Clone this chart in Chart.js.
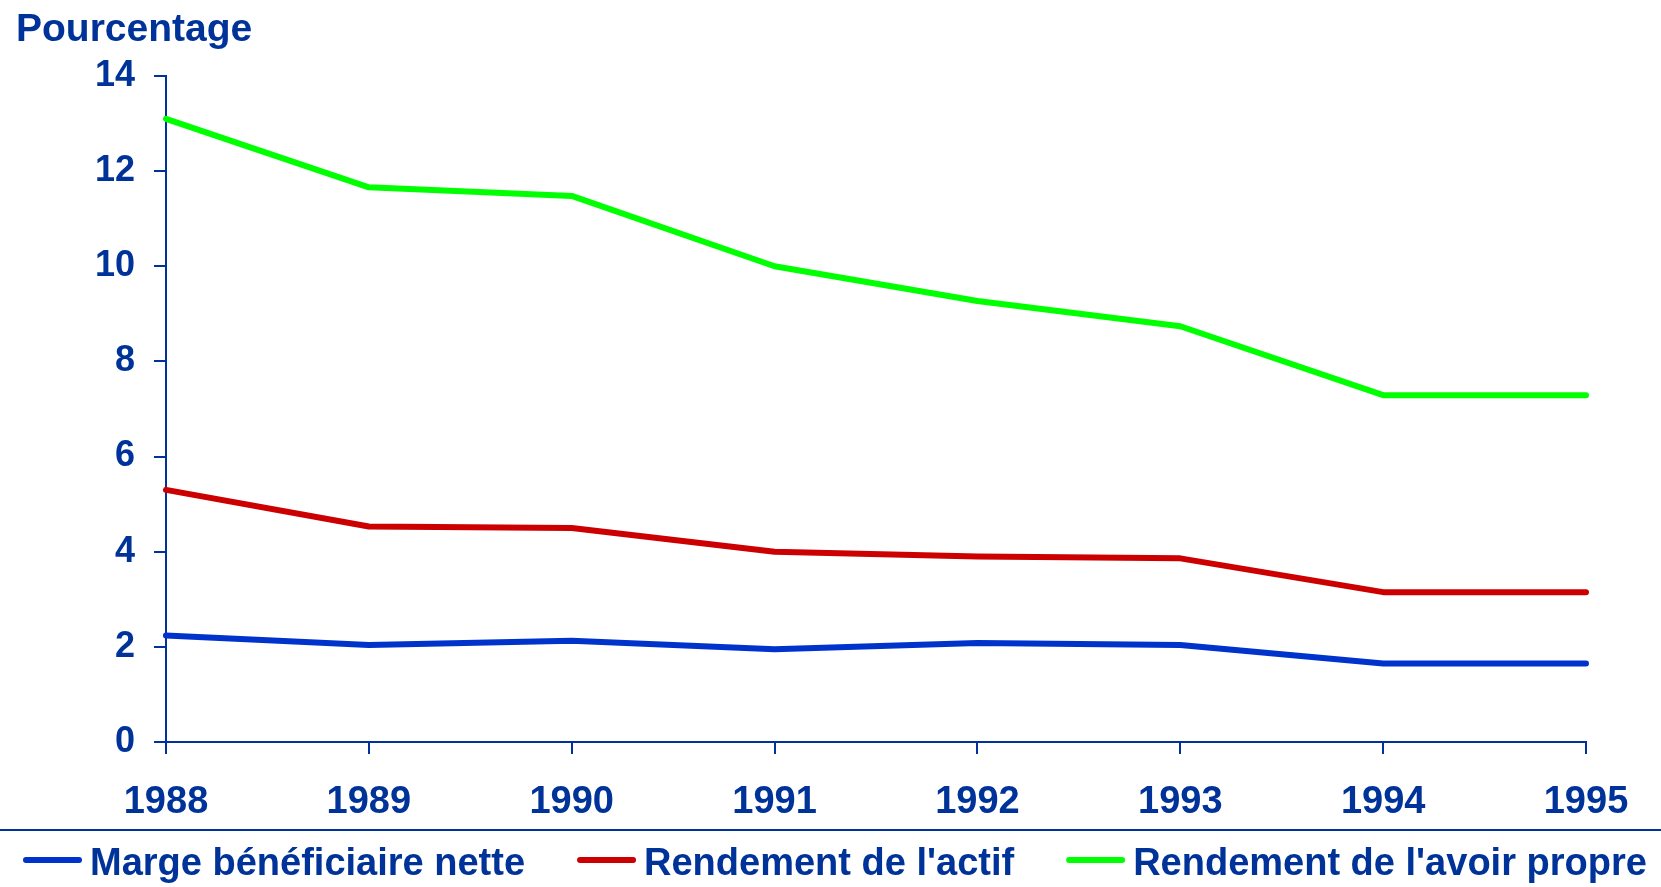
<!DOCTYPE html>
<html>
<head>
<meta charset="utf-8">
<script src="https://cdn.jsdelivr.net/npm/chart.js@4.4.0/dist/chart.umd.min.js"></script>
<style>
  html, body { margin: 0; padding: 0; background: #fff; }
  #wrap { width: 1661px; height: 887px; }
</style>
</head>
<body>
<div id="wrap"><canvas id="chart" width="1661" height="887"></canvas></div>
<script>
// Données (en %)
const years = ["1988", "1989", "1990", "1991", "1992", "1993", "1994", "1995"];
const margeNette = [2.24, 2.04, 2.13, 1.95, 2.08, 2.04, 1.65, 1.65];
const rendementActif = [5.3, 4.53, 4.5, 4.0, 3.9, 3.86, 3.15, 3.15];
const rendementAvoir = [13.1, 11.66, 11.48, 10.0, 9.27, 8.74, 7.29, 7.29];
const seriesLabels = [
  "Marge bénéficiaire nette",
  "Rendement de l'actif",
  "Rendement de l'avoir propre",
];

const TEXT = "#003399";
const FONT = "'Liberation Sans', Arial, sans-serif";

// Légende dessinée sous le trait de séparation
const bottomLegend = {
  id: "bottomLegend",
  afterDraw(chart) {
    const ctx = chart.ctx;
    ctx.save();
    ctx.strokeStyle = TEXT;
    ctx.lineWidth = 2;
    ctx.beginPath();
    ctx.moveTo(0, 830);
    ctx.lineTo(chart.width, 830);
    ctx.stroke();

    ctx.font = "bold 38px " + FONT;
    let x = 23;
    chart.data.datasets.forEach((ds) => {
      ctx.strokeStyle = ds.borderColor;
      ctx.lineWidth = 6;
      ctx.lineCap = "round";
      ctx.beginPath();
      ctx.moveTo(x + 3, 860);
      ctx.lineTo(x + 56, 860);
      ctx.stroke();
      ctx.fillStyle = TEXT;
      ctx.textAlign = "left";
      ctx.textBaseline = "alphabetic";
      ctx.fillText(ds.label, x + 67, 875);
      x += 67 + ctx.measureText(ds.label).width + 52;
    });
    ctx.restore();
  },
};

const lineStyle = {
  borderWidth: 6,
  pointRadius: 0,
  tension: 0,
  borderCapStyle: "round",
  borderJoinStyle: "round",
  fill: false,
};

new Chart(document.getElementById("chart").getContext("2d"), {
  type: "line",
  data: {
    labels: years,
    datasets: [
      { label: seriesLabels[0], data: margeNette, borderColor: "#0033cc", ...lineStyle },
      { label: seriesLabels[1], data: rendementActif, borderColor: "#cc0000", ...lineStyle },
      { label: seriesLabels[2], data: rendementAvoir, borderColor: "#00ff00", ...lineStyle },
    ],
  },
  options: {
    responsive: false,
    animation: false,
    layout: { padding: { left: 16, right: 75, top: 0, bottom: 0 } },
    plugins: {
      legend: { display: false },
      tooltip: { enabled: false },
      title: {
        display: true,
        text: "Pourcentage",
        align: "start",
        color: TEXT,
        font: { family: FONT, size: 39, weight: "bold" },
        padding: { top: 7, bottom: 22.2 },
      },
    },
    scales: {
      x: {
        offset: false,
        border: { color: TEXT, width: 2 },
        grid: { drawOnChartArea: false, drawTicks: true, tickLength: 12, color: TEXT, lineWidth: 2 },
        ticks: {
          color: TEXT,
          font: { family: FONT, size: 38, weight: "bold" },
          maxRotation: 0,
          autoSkip: false,
          padding: 26,
        },
        afterFit(scale) {
          scale.height = 145;
        },
      },
      y: {
        min: 0,
        max: 14,
        border: { color: TEXT, width: 2 },
        grid: { drawOnChartArea: false, drawTicks: true, tickLength: 12, color: TEXT, lineWidth: 2 },
        ticks: {
          stepSize: 2,
          color: TEXT,
          font: { family: FONT, size: 36, weight: "bold" },
          padding: 19,
        },
        afterFit(scale) {
          scale.width = 150;
        },
      },
    },
  },
  plugins: [bottomLegend],
});
</script>
</body>
</html>
